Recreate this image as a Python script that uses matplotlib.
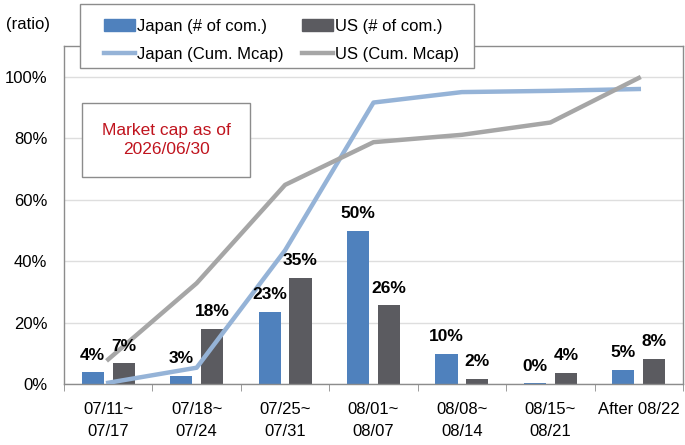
import numpy as np
import matplotlib
matplotlib.use('Agg')
import matplotlib.pyplot as plt
from matplotlib.patches import Patch, Rectangle
from matplotlib.lines import Line2D

plt.rcParams['font.family'] = ['Liberation Sans', 'DejaVu Sans']
plt.rcParams['font.size'] = 12

weeks = ['07/11~\n07/17', '07/18~\n07/24', '07/25~\n07/31', '08/01~\n08/07',
         '08/08~\n08/14', '08/15~\n08/21', 'After 08/22']
japan_cnt = [3.8, 2.6, 23.4, 49.9, 9.9, 0.2, 4.7]     # % of companies
us_cnt = [6.7, 18.0, 34.6, 25.6, 1.6, 3.6, 8.1]
japan_cum = [0.4, 5.3, 43.5, 91.6, 95.0, 95.4, 96.0]  # cumulative market cap %
us_cum = [8.0, 32.8, 64.8, 78.7, 81.1, 85.1, 99.6]

c_jp_bar = '#4f81bd'
c_us_bar = '#5b5b60'
c_jp_line = '#95b3d7'
c_us_line = '#a6a6a6'
c_edge = '#8c8c8c'

W, H = 685, 445
fig = plt.figure(figsize=(6.85, 4.45), dpi=100)
ax = fig.add_axes([64 / W, 1 - 384 / H, 619 / W, 338 / H])

x = np.arange(len(weeks))
w = 0.25
off = 0.175
b1 = ax.bar(x - off, japan_cnt, w, color=c_jp_bar, zorder=2)
b2 = ax.bar(x + off, us_cnt, w, color=c_us_bar, zorder=2)
ax.plot(x, japan_cum, color=c_jp_line, lw=3.2, zorder=3)
ax.plot(x, us_cum, color=c_us_line, lw=3.2, zorder=3)

for bars, vals in ((b1, japan_cnt), (b2, us_cnt)):
    for b, v in zip(bars, vals):
        ax.annotate('{:.0f}%'.format(v), (b.get_x() + b.get_width() / 2, b.get_height()),
                    xytext=(0, 7), textcoords='offset points', ha='center', va='bottom',
                    fontweight='bold', fontsize=12.5, zorder=4)

ax.set_xlim(-0.5, len(weeks) - 0.5)
ax.set_ylim(0, 110)
ax.set_yticks(np.arange(0, 101, 20))
ax.set_yticklabels(['{}%'.format(v) for v in range(0, 101, 20)])
ax.set_xticks(x)
ax.set_xticklabels(weeks, va='top', linespacing=1.55)
ax.set_xticks(np.arange(-0.5, len(weeks), 1), minor=True)
ax.tick_params(axis='x', which='major', length=0, pad=13)
ax.tick_params(axis='x', which='minor', length=5, color=c_edge, direction='out')
ax.tick_params(axis='y', length=0, pad=12)
ax.grid(axis='y', color='#dedede', lw=1, zorder=0)
for s in ax.spines.values():
    s.set_color(c_edge)
    s.set_linewidth(1)

fig.text(28 / W, 1 - 24 / H, '(ratio)', ha='center', va='center', fontsize=12)

fig.text(166 / W, 1 - 140 / H, 'Market cap as of\n2026/06/30', color='#c0141e',
         ha='center', va='center', fontsize=12.5, linespacing=1.3,
         bbox=dict(boxstyle='square,pad=1.15', facecolor='white', edgecolor=c_edge, lw=1))

# legend frame drawn by hand, two one-column legends inside it
fig.patches.append(Rectangle((80 / W, 1 - 68 / H), 394 / W, 64 / H, transform=fig.transFigure,
                             facecolor='white', edgecolor=c_edge, lw=1, zorder=9))
jp_h = [Patch(color=c_jp_bar), Line2D([], [], color=c_jp_line, lw=3.2)]
us_h = [Patch(color=c_us_bar), Line2D([], [], color=c_us_line, lw=3.2)]
leg_kw = dict(loc='upper left', frameon=False, handlelength=1.85, handletextpad=0.15,
              borderpad=0, borderaxespad=0, labelspacing=0.78, fontsize=12)
leg1 = fig.legend(jp_h, ['Japan (# of com.)', 'Japan (Cum. Mcap)'],
                  bbox_to_anchor=(104 / W, 1 - 19 / H), **leg_kw)
leg2 = fig.legend(us_h, ['US (# of com.)', 'US (Cum. Mcap)'],
                  bbox_to_anchor=(302 / W, 1 - 19 / H), **leg_kw)
leg1.set_zorder(10)
leg2.set_zorder(10)

fig.savefig('out.png', dpi=100)
